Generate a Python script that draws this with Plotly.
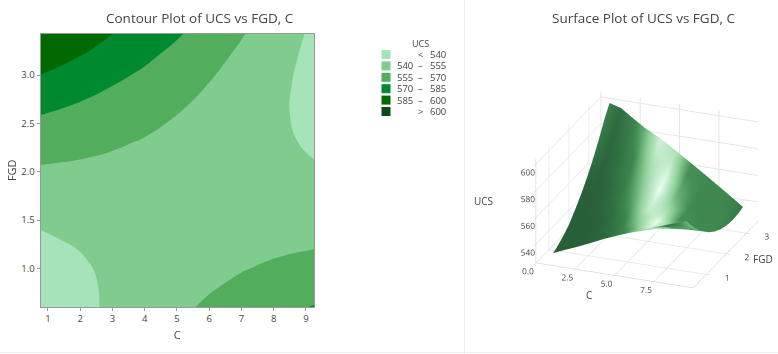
import plotly.graph_objects as go

C = [0.77, 1.5, 2.25, 3, 4, 5, 6, 7, 8, 8.75, 9.25]
FGD = [0.6, 0.8, 1.0, 1.2, 1.4, 1.7, 2.0, 2.3, 2.6, 2.9, 3.2, 3.43]
UCS = [
    [530.9, 534.6, 538.2, 542.1, 547.57, 552.35, 556.95, 561.37, 565.61, 568.67, 570.66],
    [532.4, 535.5, 538.7, 541.8, 546.38, 550.29, 554.02, 557.57, 560.94, 563.35, 564.9],
    [534.5, 537.0, 539.5, 542.1, 545.71, 548.75, 551.61, 554.29, 556.79, 558.55, 559.66],
    [537.1, 539.0, 540.9, 542.8, 545.56, 547.73, 549.72, 551.53, 553.16, 554.27, 554.94],
    [540.0, 541.6, 543.0, 544.3, 545.93, 547.23, 548.35, 549.29, 550.05, 550.51, 550.74],
    [546.25, 546.69, 547.04, 547.29, 547.47, 547.46, 547.28, 546.91, 546.37, 545.85, 545.43],
    [553.16, 552.64, 552.01, 551.29, 550.16, 548.85, 547.36, 545.69, 543.84, 542.34, 541.27],
    [561.25, 559.78, 558.17, 556.47, 554.04, 551.42, 548.63, 545.65, 542.5, 540.02, 538.3],
    [570.5, 568.07, 565.49, 562.81, 559.07, 555.15, 551.05, 546.77, 542.31, 538.85, 536.48],
    [580.93, 577.55, 573.99, 570.33, 565.29, 560.06, 554.66, 549.07, 543.31, 538.88, 535.84],
    [592.52, 588.18, 583.64, 579.01, 572.66, 566.13, 559.42, 552.53, 545.46, 540.05, 536.36],
    [599.6, 597.13, 591.0, 585.2, 579.11, 571.58, 563.87, 555.98, 547.91, 541.74, 537.56],
]
SHADE = [
    [0, 0, 0, 0, .06, .2, .5, .6, .1, .3, .5],
    [0, 0, 0, .02, .08, .27, .58, .95, .3, .35, .5],
    [0, 0, 0, .03, .12, .35, .75, .9, .4, .4, .5],
    [0, 0, 0, .04, .15, .4, .85, .8, .35, .35, .45],
    [0, 0, 0, .05, .2, .52, .92, .65, .33, .3, .35],
    [0, 0, .03, .08, .28, .65, 1, .47, .3, .3, .3],
    [0, 0, .05, .15, .4, .83, .82, .33, .3, .3, .3],
    [.05, .02, .07, .19, .5, .9, .67, .32, .3, .3, .25],
    [.12, .04, .12, .25, .6, 1, .5, .3, .3, .3, .25],
    [.18, .05, .15, .3, .7, .95, .42, .3, .3, .3, .2],
    [.22, .08, .2, .4, .83, .82, .33, .3, .3, .25, .2],
    [.25, .1, .23, .45, .88, .75, .33, .3, .3, .25, .2],
]
LEGEND_LOW = ["", "540", "555", "570", "585", ""]
LEGEND_SEP = ["<", "–", "–", "–", "–", ">"]
LEGEND_HIGH = ["540", "555", "570", "585", "600", "600"]
BAND_COLORS = ["#a6e3b8", "#80cc8e", "#52ad5c", "#008a30", "#006a00", "#0a4a1a"]

W, H = 778, 354
px = lambda v: v / W
py = lambda v: 1 - v / H
TXT = "#444444"
FONT = "Open Sans"

scale = []
n = len(BAND_COLORS)
for i, col in enumerate(BAND_COLORS):
    scale += [[i / n, col], [(i + 1) / n, col]]

fig = go.Figure()
fig.add_trace(go.Contour(
    x=C, y=FGD, z=UCS, zauto=False, zmin=525, zmax=615, colorscale=scale, showscale=False,
    autocontour=False, contours=dict(start=540, end=600, size=15, coloring="fill", showlines=False),
    line=dict(width=0, smoothing=1.3), hoverinfo="skip",
))
fig.add_trace(go.Surface(
    x=C, y=FGD, z=UCS, surfacecolor=SHADE, cmin=0, cmax=1, scene="scene", showscale=False,
    colorscale=[[0, "#28603a"], [0.3, "#3f8a50"], [0.6, "#8ccf97"], [1, "#e8ffee"]],
    lighting=dict(ambient=1, diffuse=0, specular=0, roughness=1, fresnel=0), hoverinfo="skip",
))

axis3d = dict(showbackground=False, gridcolor="#e6e6e6", linecolor="#c8c8c8", showline=True,
              zeroline=False, ticks="outside", tickcolor="#c8c8c8", ticklen=4, tickangle=0,
              tickfont=dict(size=10, color=TXT, family=FONT), title=dict(text=""))

shapes = [
    dict(type="line", xref="paper", yref="paper", x0=px(464.5), x1=px(464.5), y0=0, y1=1,
         line=dict(color="#eeeeee", width=1)),
    dict(type="line", xref="paper", yref="paper", x0=0, x1=1, y0=py(352.5), y1=py(352.5),
         line=dict(color="#eeeeee", width=1)),
]
def note(text, x, y, size):
    return dict(text=text, xref="paper", yref="paper", x=px(x), y=py(y), xanchor="center", yanchor="middle",
                showarrow=False, font=dict(size=size, color=TXT, family=FONT))

annotations = [
    note("Contour Plot of UCS vs FGD, C", 200, 18, 13.5),
    note("Surface Plot of UCS vs FGD, C", 643, 18, 13.5),
    note("UCS", 421, 44, 9),
    note("C", 589, 295, 10),
    note("FGD", 763, 259, 10),
    note("UCS", 483, 201, 10),
]
for i, col in enumerate(BAND_COLORS):
    yc = 54.5 + i * 11.4
    shapes.append(dict(type="rect", xref="paper", yref="paper", x0=px(381.5), x1=px(390.5),
                       y0=py(yc - 4.5), y1=py(yc + 4.5), fillcolor=col, line=dict(width=0)))
    for txt, xp in ((LEGEND_LOW[i], 405), (LEGEND_SEP[i], 421), (LEGEND_HIGH[i], 438)):
        if txt:
            annotations.append(note(txt, xp, yc, 9.5))

fig.update_layout(
    width=W, height=H, margin=dict(l=0, r=0, t=0, b=0), paper_bgcolor="white", plot_bgcolor="white",
    font=dict(family=FONT, color=TXT),
    xaxis=dict(domain=[px(40.5), px(314)], range=[0.77, 9.25], tickvals=[1, 2, 3, 4, 5, 6, 7, 8, 9],
               title=dict(text="C", font=dict(size=11, color=TXT), standoff=6), ticks="outside", ticklen=3,
               tickcolor="#999999", showline=True, linecolor="#999999", mirror=True, showgrid=False,
               zeroline=False, tickfont=dict(size=9.5, color=TXT)),
    yaxis=dict(domain=[py(307), py(33.5)], range=[0.6, 3.43], tickvals=[1, 1.5, 2, 2.5, 3],
               ticktext=["1.0", "1.5", "2.0", "2.5", "3.0"],
               title=dict(text="FGD", font=dict(size=11, color=TXT), standoff=2), ticks="outside", ticklen=3,
               tickcolor="#999999", showline=True, linecolor="#999999", mirror=True, showgrid=False,
               zeroline=False, tickfont=dict(size=9.5, color=TXT)),
    scene=dict(
        domain=dict(x=[px(465), 1], y=[py(334), py(40)]),
        xaxis=dict(axis3d, range=[0, 10], tickvals=[0, 2.5, 5, 7.5], ticktext=["0.0", "2.5", "5.0", "7.5"]),
        yaxis=dict(axis3d, range=[0.35, 3.6], tickvals=[1, 2, 3]),
        zaxis=dict(axis3d, range=[526, 604], tickvals=[540, 560, 580, 600]),
        aspectmode="manual", aspectratio=dict(x=1.15, y=1.21, z=0.775),
        camera=dict(eye=dict(x=0.336, y=-1.333, z=0.625), center=dict(x=-0.165, y=-0.056, z=0.017),
                    projection=dict(type="orthographic")),
    ),
    shapes=shapes, annotations=annotations,
)
fig.write_html("out.html", config=dict(displayModeBar=False),
               post_script="document.body.style.margin='0';window.dispatchEvent(new Event('resize'));")
